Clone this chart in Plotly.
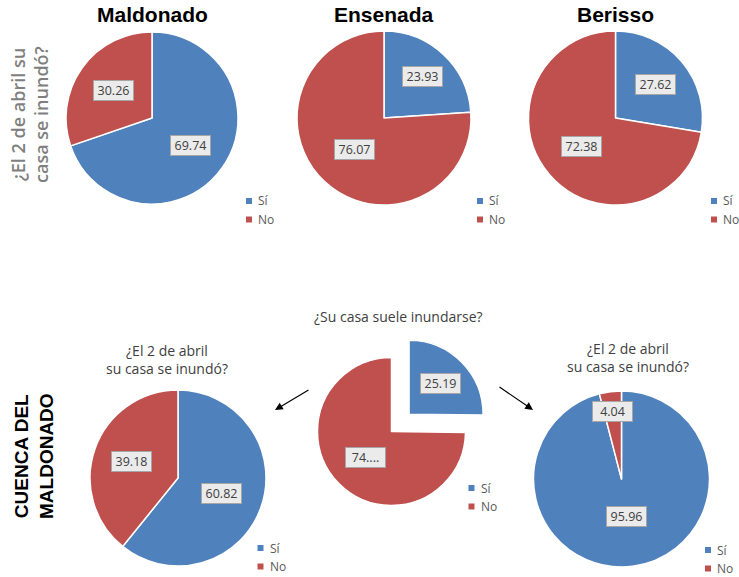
import math
import plotly.graph_objects as go

# ---------------- data ----------------
categories = ["Sí", "No"]
colors = ["#4f81bd", "#c0504d"]

top_titles = ["Maldonado", "Ensenada", "Berisso"]
maldonado = [69.74, 30.26]
ensenada = [23.93, 76.07]
berisso = [27.62, 72.38]

cuenca_inundo_left = [60.82, 39.18]
cuenca_suele = [25.19, 74.81]
cuenca_inundo_right = [95.96, 4.04]

label_maldonado = ["69.74", "30.26"]
label_ensenada = ["23.93", "76.07"]
label_berisso = ["27.62", "72.38"]
label_left = ["60.82", "39.18"]
label_suele = ["25.19", "74...."]
label_right = ["95.96", "4.04"]

row_title_top = "¿El 2 de abril su<br>casa se inundó?"
row_title_bottom = "CUENCA DEL<br>MALDONADO"
q_inundo = "¿El 2 de abril<br>su casa se inundó?"
q_suele = "¿Su casa suele inundarse?"

# ---------------- layout (pixels) ----------------
W, H = 739, 577


def px(x):
    return x / W


def py(y):
    return 1 - y / H


pies = [
    dict(values=maldonado, labels=label_maldonado, cx=152, cy=118, r=86, pull=[0, 0], frac=[0.55, 0.55], leg=(249, 201)),
    dict(values=ensenada, labels=label_ensenada, cx=384, cy=118, r=87, pull=[0, 0], frac=[0.65, 0.50], leg=(480, 201)),
    dict(values=berisso, labels=label_berisso, cx=615.5, cy=118, r=87, pull=[0, 0], frac=[0.60, 0.51], leg=(714, 201)),
    dict(values=cuenca_inundo_left, labels=label_left, cx=178, cy=478, r=88, pull=[0, 0], frac=[0.53, 0.56], leg=(260.5, 548)),
    dict(values=cuenca_suele, labels=label_suele, cx=391.5, cy=431.5, r=74, pull=[0.334, 0], frac=[0.59, 0.50], leg=(471.5, 488)),
    dict(values=cuenca_inundo_right, labels=label_right, cx=621.5, cy=479, r=88, pull=[0, 0], frac=[0.43, 0.77], leg=(708, 550)),
]

fig = go.Figure()
annotations = []
shapes = []

for p in pies:
    R = p["r"] * (1 + max(p["pull"]))
    fig.add_trace(go.Pie(
        labels=categories,
        values=p["values"],
        sort=False,
        direction="clockwise",
        rotation=0,
        pull=p["pull"],
        textinfo="none",
        marker=dict(colors=colors, line=dict(color="white", width=1.5)),
        domain=dict(x=[px(p["cx"] - R), px(p["cx"] + R)],
                    y=[py(p["cy"] + R), py(p["cy"] - R)]),
        showlegend=False,
        hoverinfo="label+value",
    ))
    # data labels, placed at each slice's mid-angle
    total = sum(p["values"])
    cum = 0.0
    for v, txt, f, pl in zip(p["values"], p["labels"], p["frac"], p["pull"]):
        mid = (cum + v / 2) / total * 2 * math.pi
        cum += v
        dist = (f + pl) * p["r"]
        lx = p["cx"] + dist * math.sin(mid)
        ly = p["cy"] - dist * math.cos(mid)
        annotations.append(dict(
            x=px(lx), y=py(ly), xref="paper", yref="paper",
            text=txt, showarrow=False, xanchor="center", yanchor="middle",
            width=39, height=19, borderpad=0,
            bgcolor="#ebebeb", bordercolor="#a6a6a6", borderwidth=1,
            font=dict(family="Open Sans", size=12.5, color="#404040"),
        ))
    # legend
    lx, ly = p["leg"]
    for i, (cat, col) in enumerate(zip(categories, colors)):
        yy = ly + i * 18.5
        shapes.append(dict(type="rect", xref="paper", yref="paper",
                           x0=px(lx - 3), x1=px(lx + 3), y0=py(yy + 3), y1=py(yy - 3),
                           fillcolor=col, line=dict(width=0)))
        annotations.append(dict(
            x=px(lx + 7), y=py(yy), xref="paper", yref="paper", text=cat,
            showarrow=False, xanchor="left", yanchor="middle",
            font=dict(family="Open Sans", size=12, color="#595959"),
        ))

# top titles
for t, p in zip(top_titles, pies[:3]):
    annotations.append(dict(
        x=px(p["cx"]), y=py(14), xref="paper", yref="paper", text=f"<b>{t}</b>",
        showarrow=False, xanchor="center", yanchor="middle",
        font=dict(family="Liberation Sans", size=21, color="#000000"),
    ))

# row titles (vertical)
annotations.append(dict(
    x=px(30), y=py(115), xref="paper", yref="paper", text=row_title_top,
    showarrow=False, textangle=-90, xanchor="center", yanchor="middle",
    font=dict(family="Open Sans", size=18, color="#7f7f7f", weight=600),
))
annotations.append(dict(
    x=px(34), y=py(456), xref="paper", yref="paper", text=f"<b>{row_title_bottom}</b>",
    showarrow=False, textangle=-90, xanchor="center", yanchor="middle",
    font=dict(family="Liberation Sans", size=19, color="#000000"),
))

# question titles for bottom row
for x, y, t in [(167, 359, q_inundo), (398.5, 316, q_suele), (628, 357, q_inundo)]:
    annotations.append(dict(
        x=px(x), y=py(y), xref="paper", yref="paper", text=t,
        showarrow=False, xanchor="center", yanchor="middle",
        font=dict(family="Open Sans", size=14, color="#404040"),
    ))

# arrows
annotations.append(dict(x=px(275), y=py(410), xref="paper", yref="paper", text="",
                        showarrow=True, ax=35, ay=-21, arrowhead=2, arrowsize=1.3,
                        arrowwidth=1.2, arrowcolor="#000000"))
annotations.append(dict(x=px(533), y=py(410), xref="paper", yref="paper", text="",
                        showarrow=True, ax=-35, ay=-24, arrowhead=2, arrowsize=1.3,
                        arrowwidth=1.2, arrowcolor="#000000"))

fig.update_layout(
    width=W, height=H,
    margin=dict(l=0, r=0, t=0, b=0),
    paper_bgcolor="white", plot_bgcolor="white",
    annotations=annotations, shapes=shapes,
    font=dict(family="Open Sans"),
)

fig.write_html("out.html",
               config={"displayModeBar": False},
               post_script="document.body.style.margin='0';document.body.style.overflow='hidden';")
